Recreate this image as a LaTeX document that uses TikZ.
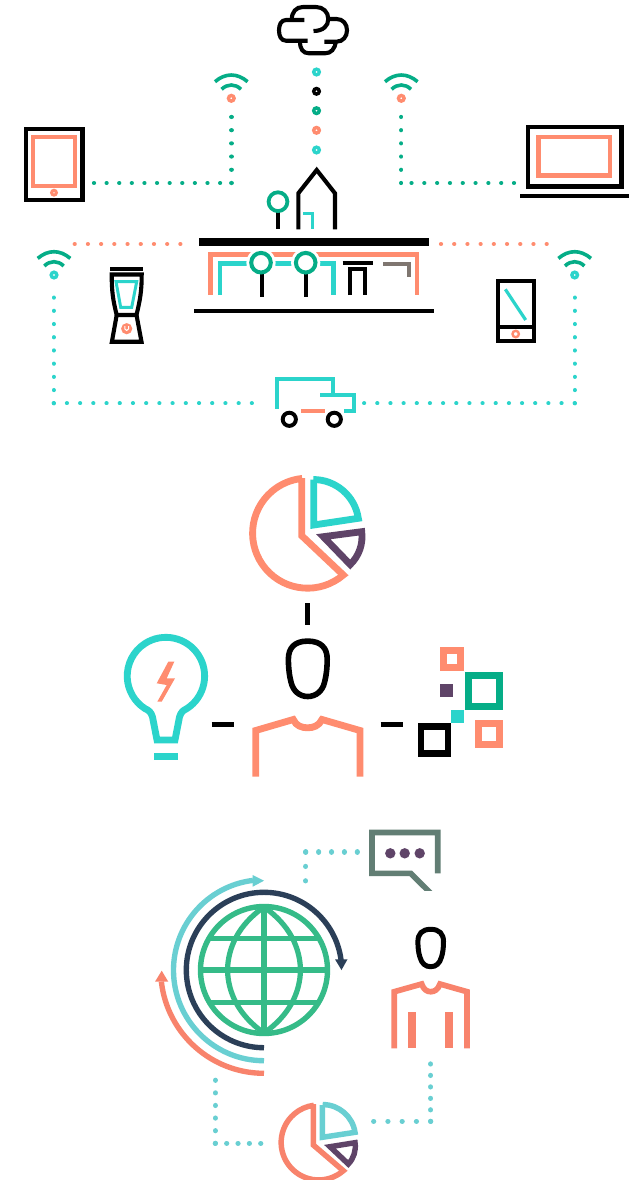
\documentclass[tikz,border=0pt]{standalone}
\definecolor{teal}{HTML}{2BD4CB}
\definecolor{coral}{HTML}{FF8C6F}
\definecolor{grn}{HTML}{05AD87}
\definecolor{purp}{HTML}{5F4468}
\definecolor{warm}{HTML}{7F7670}
\definecolor{ltteal}{HTML}{69CFD2}
\definecolor{navy}{HTML}{2B3F58}
\definecolor{globe}{HTML}{35BB88}
\definecolor{salmon}{HTML}{F8836C}
\definecolor{sage}{HTML}{627E74}
\tikzset{
  ln/.style={line width={#1*1.14},line join=miter,line cap=butt},
  dotln/.style n args={3}{draw=#1,line width=#2,line cap=round,dash pattern=on 0.01pt off #3pt},
}
\newcommand{\ringdot}[3]{\draw[#3,line width=3.4] (#1,#2) circle[radius=2.8];}
\newcommand{\wifi}[3]{%
  \draw[grn,line width=3.6] (#1-16.3,#2-16.6) .. controls (#1-6,#2-25.5) and (#1+6,#2-25.5) .. (#1+16.3,#2-16.6);
  \draw[grn,line width=3.6] (#1-9.7,#2-9) .. controls (#1-4,#2-14.7) and (#1+4,#2-14.7) .. (#1+9.7,#2-9);
  \ringdot{#1}{#2}{#3}}
\begin{document}
\begin{tikzpicture}[x=1pt,y=-1pt]
\useasboundingbox (0,0) rectangle (634,1180);
\fill[white] (0,0) rectangle (634,1180);
% named ends of the dotted connectors
\coordinate (gA) at (94,183); \coordinate (gB) at (231.5,183); \coordinate (gC) at (231.5,116);
\coordinate (hA) at (514,183); \coordinate (hB) at (401.3,183); \coordinate (hC) at (401.3,116);
\coordinate (cA) at (74.7,244); \coordinate (cB) at (181.3,244);
\coordinate (cC) at (441,244); \coordinate (cD) at (547.7,244);
\coordinate (tA) at (252.7,403.3); \coordinate (tB) at (53.7,403.3); \coordinate (tC) at (53.7,296.5);
\coordinate (uA) at (363.3,403.3); \coordinate (uB) at (574.7,403.3); \coordinate (uC) at (574.7,296);
\coordinate (vA) at (358.3,852); \coordinate (vB) at (305.7,852); \coordinate (vC) at (305.7,882);
\coordinate (wA) at (215.3,1079.3); \coordinate (wB) at (215.3,1143.3); \coordinate (wC) at (261.7,1143.3);
\coordinate (xA) at (430.7,1063); \coordinate (xB) at (430.7,1121.3); \coordinate (xC) at (372.7,1121.3);
\draw[dotln={grn}{4.2}{12.6}] (gA) -- (gB);
\draw[dotln={grn}{4.2}{13.2}] (gB) -- (gC);
\draw[dotln={grn}{4.2}{12.8}] (hA) -- (hB);
\draw[dotln={grn}{4.2}{13.2}] (hB) -- (hC);
\draw[dotln={coral}{4.2}{13.2}] (cA) -- (cB);
\draw[dotln={coral}{4.2}{13.2}] (cC) -- (cD);
\draw[dotln={teal}{4.2}{13.2}] (tB) -- (tA);
\draw[dotln={teal}{4.2}{13.2}] (tB) -- (tC);
\draw[dotln={teal}{4.2}{13.15}] (uB) -- (uA);
\draw[dotln={teal}{4.2}{13.2}] (uB) -- (uC);
\draw[dotln={ltteal}{5.2}{12.9}] (vB) -- (vA);
\draw[dotln={ltteal}{5.2}{14.4}] (vB) -- (vC);
\draw[dotln={ltteal}{5.2}{12.6}] (wB) -- (wA);
\draw[dotln={ltteal}{5.2}{11.35}] (wB) -- (wC);
\draw[dotln={ltteal}{5.2}{11.46}] (xB) -- (xA);
\draw[dotln={ltteal}{5.2}{14.25}] (xB) -- (xC);

% wifi
\wifi{231.3}{98.3}{coral}
\wifi{401.3}{98.3}{coral}
\wifi{54}{275}{teal}
\wifi{574.7}{275}{teal}

% cloud
\draw[black,ln=3.6] (304.3,20) -- (286,20) .. controls (281,20) and (279,25) .. (279,30.3) .. controls (279,36) and (281,40.7) .. (286,40.7) -- (307.7,40.7);
\draw[black,ln=3.6] (291.7,20) .. controls (291.7,12) and (296,7) .. (303,7) -- (316,7) .. controls (323,7) and (328.3,12) .. (328.3,19) .. controls (328.3,26) and (323,31) .. (313.5,31);
\draw[black,ln=3.6] (328.3,19) -- (336.5,19) .. controls (343,19) and (347,24) .. (347,30.3) .. controls (347,36.5) and (343,41.7) .. (336.5,41.7) -- (324.3,41.7);
\draw[black,ln=3.6] (300,41.7) .. controls (300,49) and (303,53.3) .. (309,53.3) -- (325,53.3) .. controls (331,53.3) and (335,49) .. (335.7,41.7);

% centre column
\ringdot{316.5}{72}{teal}
\ringdot{316.5}{91.3}{black}
\ringdot{316.5}{110.7}{grn}
\ringdot{316.5}{130.3}{coral}
\ringdot{316.5}{150}{teal}

% tablet
\draw[black,ln=4] (26,129) rectangle (82.6,200);
\draw[coral,ln=3.6] (33.3,137) rectangle (75,185.7);
\draw[coral,line width=3] (54,192.7) circle[radius=2.4];

% laptop
\draw[black,ln=4] (528,127) rectangle (621.3,186.3);
\draw[coral,ln=3.6] (538.5,137) rectangle (610,175.5);
\draw[black,ln=3.6] (520,195.7) -- (629,195.7);

% house
\draw[black,ln=3.6] (298.3,229.3) -- (298.3,193.3) -- (316.7,170) -- (335,193.3) -- (335,229.3);
\draw[teal,ln=2.6] (303.3,213.3) -- (312.7,213.3) -- (312.7,229.3);
\draw[black,ln=3.6] (278,212) -- (278,229.3);
\draw[grn,line width=3.8] (278,201.7) circle[radius=9.4];

% shelf
\fill[black] (198.7,238.3) rectangle (429,246.3);
\draw[coral,ln=4] (210.7,295) -- (210.7,254.3) -- (417,254.3) -- (417,295);
\draw[teal,ln=4] (220,295) -- (220,263.3) -- (290,263.3);
\draw[teal,ln=4] (290,263.3) -- (333.3,263.3) -- (333.3,295);
\fill[white] (261,262.7) circle[radius=14.6];
\fill[white] (305.7,262.7) circle[radius=14.6];
\draw[black,ln=3.6] (261.7,274) -- (261.7,297.3);
\draw[black,ln=3.6] (305.7,274) -- (305.7,297.3);
\draw[grn,line width=4] (261,262.7) circle[radius=9.8];
\draw[grn,line width=4] (305.7,262.7) circle[radius=9.8];
\draw[black,ln=3.2] (342.7,263.3) -- (372.7,263.3);
\draw[black,ln=3.4] (350,295) -- (350,269.3) -- (365,269.3) -- (365,295);
\draw[warm,ln=3.6] (383.3,264) -- (409.3,264) -- (409.3,277.3);
\draw[black,ln=3.6] (194.3,310.7) -- (433.7,310.7);

% blender
\draw[black,ln=3.6] (110,269) -- (142.7,269);
\draw[black,ln=3.6] (116.7,315) .. controls (113,300) and (111.7,292) .. (111.7,274.5) -- (141.7,274.5) .. controls (141.7,292) and (140,300) .. (136.5,315) -- cycle;
\draw[black,ln=3.6] (116.7,315) -- (111.9,341.7) -- (141.5,341.7) -- (136.5,315);
\draw[teal,ln=2.6] (116,281.7) -- (136.7,281.7) -- (131.7,307.3) -- (120.7,307.3) -- cycle;
\fill[coral] (126.7,328.7) circle[radius=5.6];
\draw[white,line width=1] (124.9,326) -- (124.9,329) .. controls (124.9,331) and (128.5,331) .. (128.5,329) -- (128.5,326);

% phone
\draw[black,ln=3.2] (498,280.7) rectangle (534.3,341);
\draw[black,ln=3.2] (498,327.3) -- (534.3,327.3);
\draw[teal,ln=2.8] (505.3,289.3) -- (525.7,320);
\draw[coral,line width=2.4] (515.7,334) circle[radius=3.2];

% truck
\draw[teal,ln=3.6] (277.3,408.5) -- (277.3,379) -- (333.3,379) -- (333.3,395);
\draw[teal,ln=3.6] (320,395) -- (354,395) -- (354,411) -- (344.3,411);
\draw[coral,ln=3] (301,411) -- (325,411);
\draw[black,line width=3.9] (289.3,419.3) circle[radius=6.6];
\draw[black,line width=3.9] (334.3,419.3) circle[radius=6.6];

% big pie
\draw[coral,ln=6] (301.7,478) -- (301.7,535.7) -- (343.3,575) arc[start angle=49.5,end angle=264.4,radius=55];
\draw[teal,ln=6] (313.7,479.5) -- (313.7,525) -- (358.3,518.3) arc[start angle=-8.5,end angle=-90,radius=45.5];
\draw[purp,ln=6] (323.3,536.7) -- (361.7,531.7) arc[start angle=-7.4,end angle=46,radius=38.7] -- cycle;
\draw[black,ln=4.5] (307.3,603.3) -- (307.3,625);

% big person
\draw[black,line width=5.6] (307.7,641.1) .. controls (321,641.1) and (327.2,648) .. (327.2,659) .. controls (327.2,668) and (326.2,676) .. (324.6,682) .. controls (322.6,691) and (316,696.5) .. (307.7,696.5) .. controls (299.5,696.5) and (293,691) .. (291,682) .. controls (289.4,676) and (288.4,668) .. (288.4,659) .. controls (288.4,648) and (294.5,641.1) .. cycle;
\draw[coral,ln=6] (255.7,776.7) -- (255.7,730.5) -- (293.3,719.5) .. controls (296,726) and (302,727.8) .. (307.5,727.8) .. controls (313,727.8) and (319,726) .. (322,719.5) -- (360,730.5) -- (360,776.7);
\draw[black,ln=4.5] (211.7,724.7) -- (234.3,724.7);
\draw[black,ln=4.5] (380.7,724.7) -- (402.7,724.7);

% bulb
\draw[teal,ln=6] (157,740) -- (175,740) -- (179.5,717) .. controls (181,712) and (183,710.5) .. (187,708.5) arc[start angle=57,end angle=-237,radius=38.7] .. controls (149,710.5) and (151,712) .. (152.5,717) -- cycle;
\fill[teal] (154,753.3) rectangle (177.7,760);
\fill[coral] (168.3,661.7) -- (174.3,661.7) -- (166.7,678.3) -- (175,678.3) -- (161.7,701.7) -- (157.3,701.7) -- (166.7,685) -- (156.7,683.3) -- cycle;

% squares
\draw[coral,line width=7] (443.5,650.8) rectangle (460.8,667.5);
\draw[grn,line width=7] (468.2,675.2) rectangle (499.8,706.2);
\fill[purp] (440,684) rectangle (453.3,697.3);
\fill[teal] (451,709.7) rectangle (464.3,723.3);
\draw[black,line width=6.5] (421.2,726.5) rectangle (448.1,753.5);
\draw[coral,line width=7] (478.5,723.5) rectangle (499.8,744.8);

% globe
\draw[globe,line width=5.4] (264,970) circle[radius=63.5];
\draw[globe,ln=4.6] (264,906.5) -- (264,1033.5);
\draw[globe,ln=4.6] (200.5,970) -- (327.5,970);
\draw[globe,ln=4.6] (209,938.3) -- (319,938.3);
\draw[globe,ln=4.6] (209,1002.3) -- (319,1002.3);
\draw[globe,ln=4.6] (264,907) .. controls (290,925) and (300,948) .. (300.5,970) .. controls (300,992) and (290,1015) .. (264,1033);
\draw[globe,ln=4.6] (264,907) .. controls (238,925) and (228,948) .. (227.5,970) .. controls (228,992) and (238,1015) .. (264,1033);

% circular arrows
\draw[navy,ln=4.7] (264,1047.7) arc[start angle=90,end angle=353,radius=77.7];
\fill[navy] (335,959.3) -- (347.5,959.3) -- (341.5,970) -- cycle;
\draw[ltteal,ln=4.7] (264,1060.7) arc[start angle=90,end angle=263,radius=90.5];
\fill[ltteal] (252.7,875) -- (264,880.7) -- (252.7,886.7) -- cycle;
\draw[salmon,ln=4.7] (264,1073.3) arc[start angle=90,end angle=173.5,radius=103.3];
\fill[salmon] (155,981.7) -- (168.3,981.7) -- (161.7,970.7) -- cycle;

% speech bubble
\draw[sage,line width=5.6] (437.7,873.3) -- (437.7,832.5) -- (372,832.5) -- (372,873.3) -- (410.7,873.3) -- (431,893.5);
\fill[white] (418,890.7) rectangle (440,897);
\fill[purp] (390.3,853.3) circle[radius=5.2];
\fill[purp] (404.7,853.3) circle[radius=5.2];
\fill[purp] (419.7,853.3) circle[radius=5.2];

% small person
\draw[black,line width=5] (430.7,929.3) .. controls (439.5,929.3) and (443.5,934) .. (443.5,941.5) .. controls (443.5,948) and (442.8,953) .. (441.5,957) .. controls (439.8,963.5) and (436,966.7) .. (430.7,966.7) .. controls (425.4,966.7) and (421.6,963.5) .. (419.9,957) .. controls (418.6,953) and (417.9,948) .. (417.9,941.5) .. controls (417.9,934) and (421.9,929.3) .. cycle;
\draw[salmon,ln=5] (394.3,1048.3) -- (394.3,991.7) -- (421.7,984) .. controls (423.5,989.5) and (427,991.7) .. (430.7,991.7) .. controls (434.5,991.7) and (438,989.5) .. (440,984) -- (467,991.7) -- (467,1048.3);
\fill[salmon] (408,1012) rectangle (416,1048.3);
\fill[salmon] (445,1012) rectangle (453,1048.3);

% small pie
\draw[salmon,ln=4.8] (313.3,1104) -- (313.3,1145) -- (343.3,1170.7) arc[start angle=48.9,end angle=262.7,radius=37.5];
\draw[ltteal,ln=4.8] (322.3,1105) -- (322.3,1137.3) -- (355,1132.3) arc[start angle=-8.7,end angle=-90,radius=32.7];
\draw[purp,ln=4.8] (330,1146.7) -- (355,1142.7) arc[start angle=-9,end angle=44,radius=25] -- cycle;
\end{tikzpicture}
\end{document}
